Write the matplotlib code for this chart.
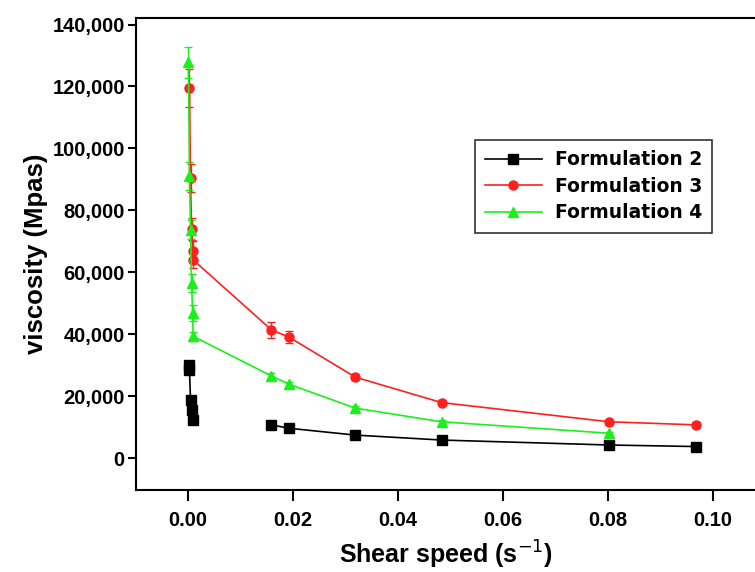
import numpy as np
import matplotlib
matplotlib.use("Agg")
import matplotlib.pyplot as plt
from matplotlib.ticker import FuncFormatter

# shear speed (s^-1) and viscosity (Mpas)
x_f2 = [0.0002, 0.0003, 0.0005, 0.0007, 0.001, np.nan, 0.0159, 0.0193, 0.0319, 0.0483, 0.0802, 0.0968]
y_f2 = [30100, 28500, 18800, 15500, 12300, np.nan, 10700, 9600, 7400, 5800, 4200, 3700]
e_f2 = [800, 700, 600, 500, 500, 0, 500, 400, 400, 300, 300, 300]

x_f3 = [0.0003, 0.0005, 0.0007, 0.0009, 0.001, 0.0159, 0.0193, 0.0319, 0.0483, 0.0802, 0.0968]
y_f3 = [119500, 90500, 74000, 67000, 64000, 41400, 39000, 26100, 17900, 11700, 10700]
e_f3 = [6000, 4500, 3500, 3000, 2500, 2600, 2000, 900, 700, 700, 800]

x_f4 = [0.0001, 0.0003, 0.0005, 0.0007, 0.0009, 0.001, 0.0159, 0.0193, 0.0319, 0.0483, 0.0802]
y_f4 = [127800, 91000, 73800, 56500, 46900, 39300, 26500, 23800, 16100, 11700, 8000]
e_f4 = [5000, 4500, 3000, 3000, 2500, 1500, 800, 700, 600, 600, 500]

labels = ['Formulation 2', 'Formulation 3', 'Formulation 4']

fig = plt.figure(figsize=(7.55, 5.72), dpi=100)
ax = fig.add_axes([0.180, 0.143, 0.820, 0.826])

c2 = ax.errorbar(x_f2, y_f2, yerr=e_f2, color='black', marker='s', markersize=6.5, lw=1.2,
                 capsize=3, elinewidth=1)
c3 = ax.errorbar(x_f3, y_f3, yerr=e_f3, color='#ff1f1f', marker='o', markersize=6.5, lw=1.2,
                 capsize=3, elinewidth=1)
c4 = ax.errorbar(x_f4, y_f4, yerr=e_f4, color='#1cf01c', marker='^', markersize=7.5, lw=1.2,
                 capsize=3, elinewidth=1)

ax.set_xlim(-0.0099, 0.108)
ax.set_ylim(-10400, 142200)
ax.set_xticks([0.00, 0.02, 0.04, 0.06, 0.08, 0.10])
ax.set_yticks(range(0, 140001, 20000))
ax.xaxis.set_major_formatter(FuncFormatter(lambda v, _: f'{v:.2f}'))
ax.yaxis.set_major_formatter(FuncFormatter(lambda v, _: f'{int(v):,}'))

ax.spines['right'].set_visible(False)
for s in ['left', 'bottom', 'top']:
    ax.spines[s].set_linewidth(1.5)
ax.tick_params(direction='out', length=6, width=1.5)
ax.tick_params(axis='x', pad=7, length=8)
ax.tick_params(axis='y', pad=2)
for lab in ax.get_xticklabels() + ax.get_yticklabels():
    lab.set_fontfamily('Liberation Sans')
    lab.set_fontweight('bold')
    lab.set_fontsize(14.5)

ax.set_xlabel('Shear speed (s$^{-1}$)', fontsize=18, fontweight='bold',
              fontfamily='Liberation Sans', labelpad=6)
ax.set_ylabel('viscosity (Mpas)', fontsize=18.5, fontweight='bold',
              fontfamily='Liberation Sans', labelpad=3)

leg = ax.legend([c2[0], c3[0], c4[0]], labels, loc='upper left',
                bbox_to_anchor=(475 / 755, 1 - 140 / 572), bbox_transform=fig.transFigure,
                borderaxespad=0, fancybox=False, edgecolor='black',
                prop={'family': 'DejaVu Sans', 'weight': 'bold', 'size': 13.5},
                handlelength=3.0, handletextpad=0.7, borderpad=0.55, labelspacing=0.4)
leg.get_frame().set_linewidth(1.2)

fig.savefig('out.png', dpi=100)
